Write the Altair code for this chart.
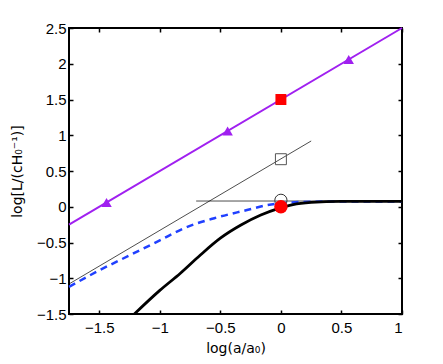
import altair as alt
import pandas as pd

# ---- data ----
purple_x = [-1.75, 1.0]
purple_y = [-0.25, 2.5]
tri_x = [-1.44, -0.44, 0.56]
tri_y = [0.06, 1.06, 2.06]

thin_x = [-1.75, 0.25]
thin_y = [-1.08, 0.92]
hor_x = [-0.70, 1.0]
hor_y = [0.08, 0.08]

blue_x = [-1.75, -1.5, -1.25, -1.0, -0.8, -0.55, -0.28, -0.11, 0.0, 0.25, 0.5, 1.0]
blue_y = [-1.12, -0.89, -0.68, -0.47, -0.30, -0.16, -0.046, 0.024, 0.05, 0.07, 0.075, 0.075]

black_x = [-1.21, -1.0, -0.83, -0.665, -0.5, -0.33, -0.166, -0.03, 0.1, 0.25, 0.5, 1.0]
black_y = [-1.5, -1.17, -0.93, -0.675, -0.44, -0.256, -0.116, -0.03, 0.03, 0.06, 0.075, 0.075]

red_sq = (0.0, 1.5)
open_sq = (0.0, 0.665)
open_circ = (0.0, 0.09)
red_dot = (0.0, 0.0)

x_ticks = [-1.5, -1, -0.5, 0, 0.5, 1]
y_ticks = [-1.5, -1, -0.5, 0, 0.5, 1, 1.5, 2, 2.5]

FONT = "Liberation Sans"
TFONT = "DejaVu Sans"
LABEL_EXPR = "replace(format(datum.value, '.1~f'), '-', '\u2212')"

xs = alt.Scale(domain=[-1.75, 1.0], nice=False, zero=False)
ys = alt.Scale(domain=[-1.5, 2.5], nice=False, zero=False)

ax_bottom = alt.Axis(orient="bottom", values=x_ticks, labelExpr=LABEL_EXPR, offset=-4, tickSize=4,
                     tickWidth=1.5, tickColor="black", domain=False, grid=False,
                     labelPadding=6, labelFont=FONT, labelFontSize=15, labelColor="black",
                     title="log(a/a₀)", titleFont=TFONT, titleFontSize=14,
                     titleFontWeight="normal", titleColor="black", titlePadding=6)
ax_left = alt.Axis(orient="left", values=y_ticks, labelExpr=LABEL_EXPR, offset=-4, tickSize=4,
                   tickWidth=1.5, tickColor="black", domain=False, grid=False,
                   labelPadding=3, labelFont=FONT, labelFontSize=15, labelColor="black",
                   title="log[L/(cH₀⁻¹)]", titleFont=TFONT, titleFontSize=14,
                   titleFontWeight="normal", titleColor="black", titlePadding=12)
ax_top = alt.Axis(orient="top", values=x_ticks, offset=-4, tickSize=4, tickWidth=1.5,
                  tickColor="black", domain=False, grid=False, labels=False, title=None)
ax_right = alt.Axis(orient="right", values=y_ticks, offset=-4, tickSize=4, tickWidth=1.5,
                    tickColor="black", domain=False, grid=False, labels=False, title=None)


def line_df(x, y):
    return pd.DataFrame({"x": x, "y": y})


purple = alt.Chart(line_df(purple_x, purple_y)).mark_line(color="#a020f0", strokeWidth=2).encode(
    x=alt.X("x:Q", scale=xs, axis=ax_bottom), y=alt.Y("y:Q", scale=ys, axis=ax_left))

thin = alt.Chart(line_df(thin_x, thin_y)).mark_line(color="black", strokeWidth=0.7).encode(
    x=alt.X("x:Q", scale=xs, axis=ax_top), y=alt.Y("y:Q", scale=ys, axis=ax_right))

hor = alt.Chart(line_df(hor_x, hor_y)).mark_line(color="black", strokeWidth=0.7).encode(
    x=alt.X("x:Q", scale=xs, axis=None), y=alt.Y("y:Q", scale=ys, axis=None))

blue = alt.Chart(line_df(blue_x, blue_y)).mark_line(
    color="#2040ff", strokeWidth=2.5, strokeDash=[7, 5], interpolate="monotone").encode(
    x=alt.X("x:Q", scale=xs, axis=None), y=alt.Y("y:Q", scale=ys, axis=None))

black = alt.Chart(line_df(black_x, black_y)).mark_line(
    color="black", strokeWidth=2.8, interpolate="monotone").encode(
    x=alt.X("x:Q", scale=xs, axis=None), y=alt.Y("y:Q", scale=ys, axis=None))

tris = alt.Chart(line_df(tri_x, tri_y)).mark_point(
    shape="triangle-up", filled=True, color="#a020f0", size=110, opacity=1).encode(
    x=alt.X("x:Q", scale=xs, axis=None), y=alt.Y("y:Q", scale=ys, axis=None))

rsq = alt.Chart(line_df([red_sq[0]], [red_sq[1]])).mark_point(
    shape="square", filled=True, color="#ff0000", size=120, opacity=1).encode(
    x=alt.X("x:Q", scale=xs, axis=None), y=alt.Y("y:Q", scale=ys, axis=None))

osq = alt.Chart(line_df([open_sq[0]], [open_sq[1]])).mark_point(
    shape="square", filled=False, stroke="#555555", strokeWidth=1, size=120, opacity=1).encode(
    x=alt.X("x:Q", scale=xs, axis=None), y=alt.Y("y:Q", scale=ys, axis=None))

ocirc = alt.Chart(line_df([open_circ[0]], [open_circ[1]])).mark_point(
    shape="circle", filled=False, stroke="#333333", strokeWidth=1, size=150, opacity=1).encode(
    x=alt.X("x:Q", scale=xs, axis=None), y=alt.Y("y:Q", scale=ys, axis=None))

rdot = alt.Chart(line_df([red_dot[0]], [red_dot[1]])).mark_point(
    shape="circle", filled=True, color="#ff0000", size=180, opacity=1).encode(
    x=alt.X("x:Q", scale=xs, axis=None), y=alt.Y("y:Q", scale=ys, axis=None))

chart = alt.layer(purple, thin, hor, blue, black, tris, rsq, osq, ocirc, rdot).resolve_axis(
    x="independent", y="independent"
).properties(
    width=333, height=286,
    autosize=alt.AutoSizeParams(type="none"),
    padding={"left": 61, "top": 20, "right": 33, "bottom": 42},
    background="white",
).configure_view(stroke="black", strokeWidth=2)

chart.save("out.html", embed_options={"renderer": "svg", "actions": False})
